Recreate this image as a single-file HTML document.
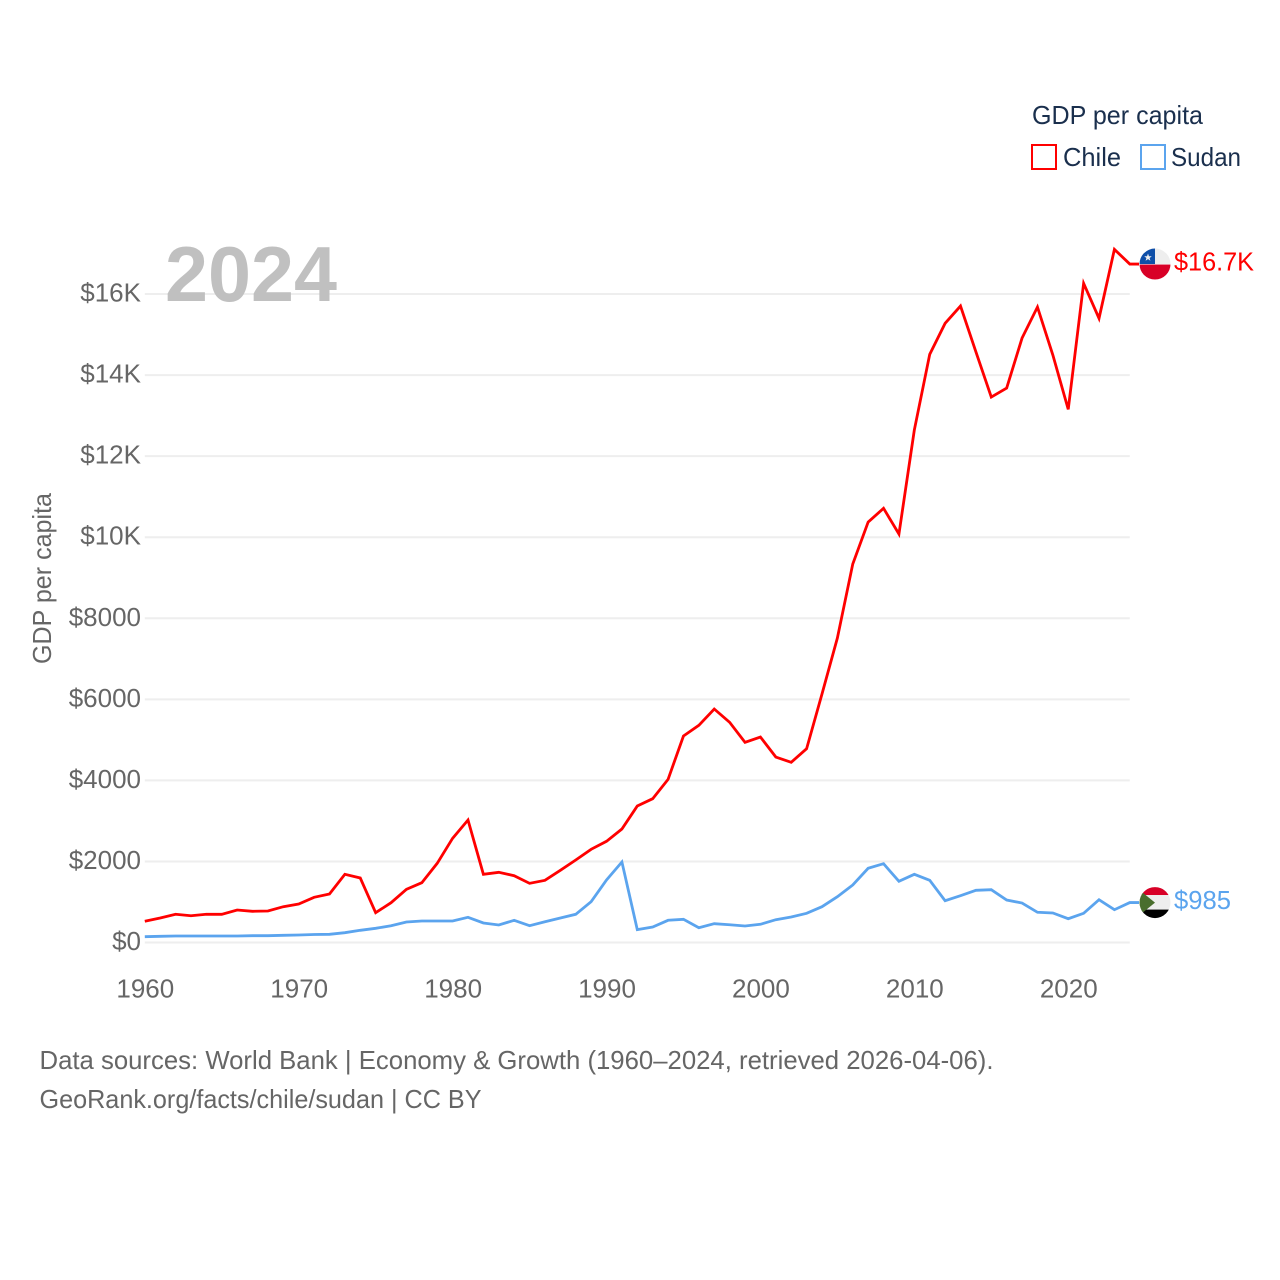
<!DOCTYPE html>
<html lang="en">
<head>
<meta charset="utf-8">
<title>GDP per capita: Chile vs Sudan</title>
<style>
  html, body { margin: 0; padding: 0; background: #ffffff; }
  svg { display: block; }
  text { font-family: "Liberation Sans", "DejaVu Sans", sans-serif; }
</style>
</head>
<body>
<svg id="chart" xmlns="http://www.w3.org/2000/svg" width="1280" height="1280" viewBox="0 0 1280 1280">
  <defs>
    <clipPath id="flag-clip"><circle cx="0" cy="0" r="15.5"></circle></clipPath>
  </defs>
  <rect x="0" y="0" width="1280" height="1280" fill="#ffffff"></rect>

  <g id="grid"></g>

  <text x="165" y="301" font-size="78" font-weight="700" fill="#c0c0c0" textLength="172" lengthAdjust="spacingAndGlyphs">2024</text>

  <g id="y-axis"></g>
  <g id="x-axis"></g>
  <text transform="translate(51,664) rotate(-90)" x="0" y="0" font-size="26" fill="#666666" textLength="171" lengthAdjust="spacingAndGlyphs">GDP per capita</text>

  <g id="series"></g>

  <g id="flag-chile">
    <g clip-path="url(#flag-clip)">
      <rect x="-16" y="-16" width="32" height="16" fill="#eeeeee"></rect>
      <rect x="-16" y="-16" width="16" height="16" fill="#0f4fa8"></rect>
      <rect x="-16" y="0.5" width="32" height="16" fill="#d80027"></rect>
      <polygon points="-7,-10.5 -6,-7.8 -3.2,-7.8 -5.4,-6 -4.6,-3.3 -7,-4.9 -9.4,-3.3 -8.6,-6 -10.8,-7.8 -8,-7.8" fill="#eeeeee"></polygon>
    </g>
  </g>
  <g id="flag-sudan">
    <g clip-path="url(#flag-clip)">
      <rect x="-16" y="-16" width="32" height="8.5" fill="#d80027"></rect>
      <rect x="-16" y="-7.5" width="32" height="14.5" fill="#eeeeee"></rect>
      <rect x="-16" y="7" width="32" height="9" fill="#000000"></rect>
      <polygon points="-16,-13 -16,13 0,0" fill="#496e2d"></polygon>
    </g>
  </g>
  <text id="label-chile" x="1174" font-size="26" fill="#ff0000" textLength="80" lengthAdjust="spacingAndGlyphs"></text>
  <text id="label-sudan" x="1174" font-size="26" fill="#5ba4ee" textLength="57" lengthAdjust="spacingAndGlyphs"></text>

  <g>
    <text x="1032" y="124" font-size="26" fill="#1a2f4d" textLength="171" lengthAdjust="spacingAndGlyphs">GDP per capita</text>
    <g>
      <rect x="1032" y="145" width="24" height="24" fill="#ffffff" stroke="#ff0000" stroke-width="2"></rect>
      <text x="1063" y="166" font-size="26" fill="#1a2f4d" textLength="58" lengthAdjust="spacingAndGlyphs">Chile</text>
    </g>
    <g>
      <rect x="1141" y="145" width="24" height="24" fill="#ffffff" stroke="#5ba4ee" stroke-width="2"></rect>
      <text x="1171" y="166" font-size="26" fill="#1a2f4d" textLength="70" lengthAdjust="spacingAndGlyphs">Sudan</text>
    </g>
  </g>

  <text x="39.5" y="1069" font-size="26" fill="#666666" textLength="954" lengthAdjust="spacingAndGlyphs">Data sources: World Bank | Economy &amp; Growth (1960–2024, retrieved 2026-04-06).</text>
  <text x="39.5" y="1108" font-size="26" fill="#666666" textLength="442" lengthAdjust="spacingAndGlyphs">GeoRank.org/facts/chile/sudan | CC BY</text>
</svg>

<script>
const years = [1960,1961,1962,1963,1964,1965,1966,1967,1968,1969,1970,1971,1972,1973,1974,1975,1976,1977,1978,1979,1980,1981,1982,1983,1984,1985,1986,1987,1988,1989,1990,1991,1992,1993,1994,1995,1996,1997,1998,1999,2000,2001,2002,2003,2004,2005,2006,2007,2008,2009,2010,2011,2012,2013,2014,2015,2016,2017,2018,2019,2020,2021,2022,2023,2024];
const chileValues = [523,604,696,661,696,696,802,770,777,883,950,1115,1197,1683,1591,735,982,1312,1475,1954,2571,3022,1683,1732,1648,1460,1534,1781,2035,2299,2497,2800,3368,3548,4026,5095,5358,5761,5433,4939,5070,4576,4446,4781,6131,7512,9338,10374,10712,10078,12644,14511,15276,15703,14575,13458,13680,14913,15678,14494,13154,16263,15399,17101,16739];
const sudanValues = [143,153,160,160,160,160,160,168,168,178,185,197,202,242,301,350,414,506,530,530,530,622,481,432,548,414,513,604,696,1007,1542,1986,316,382,548,572,365,464,439,407,449,562,629,720,883,1130,1419,1831,1944,1510,1683,1534,1031,1155,1288,1303,1048,974,745,728,587,720,1056,809,985];
const yTickValues = [0,2000,4000,6000,8000,10000,12000,14000,16000];
const yTickLabels = ["$0","$2000","$4000","$6000","$8000","$10K","$12K","$14K","$16K"];
const xTickValues = [1960,1970,1980,1990,2000,2010,2020];
const xTickLabels = ["1960","1970","1980","1990","2000","2010","2020"];
const chileEndLabel = "$16.7K";
const sudanEndLabel = "$985";

const NS = "http://www.w3.org/2000/svg";
const plotLeft = 144.8, plotRight = 1129.8, plotZeroY = 942.5, plotTopY = 294, plotTopValue = 16000;
const endX = 1139;

function xScale(year) {
  return plotLeft + (year - years[0]) * (plotRight - plotLeft) / (years[years.length - 1] - years[0]);
}
function yScale(value) {
  return plotZeroY - value * (plotZeroY - plotTopY) / plotTopValue;
}
function make(tag, parent) {
  const el = document.createElementNS(NS, tag);
  parent.appendChild(el);
  return el;
}

const gridGroup = document.getElementById("grid");
const yAxisGroup = document.getElementById("y-axis");
const xAxisGroup = document.getElementById("x-axis");
const seriesGroup = document.getElementById("series");

yTickValues.forEach(function (v, i) {
  const line = make("line", gridGroup);
  
  
  line.setAttribute("x1", plotLeft);
  line.setAttribute("x2", plotRight);
  line.setAttribute("y1", yScale(v));
  line.setAttribute("y2", yScale(v));
  line.setAttribute("stroke", "#eeeeee");
  line.setAttribute("stroke-width", "2");

  const label = make("text", yAxisGroup);
  
  
  label.setAttribute("x", 141);
  label.setAttribute("y", yScale(v) + 7.5);
  label.setAttribute("text-anchor", "end");
  label.setAttribute("font-size", "26");
  label.setAttribute("fill", "#666666");
  label.textContent = yTickLabels[i];
});

xTickValues.forEach(function (v, i) {
  const label = make("text", xAxisGroup);
  
  
  label.setAttribute("x", xScale(v) + 0.5);
  label.setAttribute("y", 997.5);
  label.setAttribute("text-anchor", "middle");
  label.setAttribute("font-size", "26");
  label.setAttribute("fill", "#666666");
  label.textContent = xTickLabels[i];
});

function linePoints(values) {
  const pts = values.map(function (v, i) {
    return xScale(years[i]).toFixed(2) + "," + yScale(v).toFixed(2);
  });
  pts.push(endX + "," + yScale(values[values.length - 1]).toFixed(2));
  return pts.join(" ");
}

const sudanLine = make("polyline", seriesGroup);


sudanLine.setAttribute("points", linePoints(sudanValues));
sudanLine.setAttribute("fill", "none");
sudanLine.setAttribute("stroke", "#5ba4ee");
sudanLine.setAttribute("stroke-width", "2.8");
sudanLine.setAttribute("stroke-linejoin", "miter");

const chileLine = make("polyline", seriesGroup);


chileLine.setAttribute("points", linePoints(chileValues));
chileLine.setAttribute("fill", "none");
chileLine.setAttribute("stroke", "#ff0000");
chileLine.setAttribute("stroke-width", "2.8");
chileLine.setAttribute("stroke-linejoin", "miter");

const chileY = yScale(chileValues[chileValues.length - 1]);
const sudanY = yScale(sudanValues[sudanValues.length - 1]);
document.getElementById("flag-chile").setAttribute("transform", "translate(1155," + chileY + ")");
document.getElementById("flag-sudan").setAttribute("transform", "translate(1155," + sudanY + ")");
const chileLabel = document.getElementById("label-chile");
chileLabel.setAttribute("y", chileY + 6.5);
chileLabel.textContent = chileEndLabel;
const sudanLabel = document.getElementById("label-sudan");
sudanLabel.setAttribute("y", sudanY + 6.5);
sudanLabel.textContent = sudanEndLabel;
</script>
</body>
</html>
